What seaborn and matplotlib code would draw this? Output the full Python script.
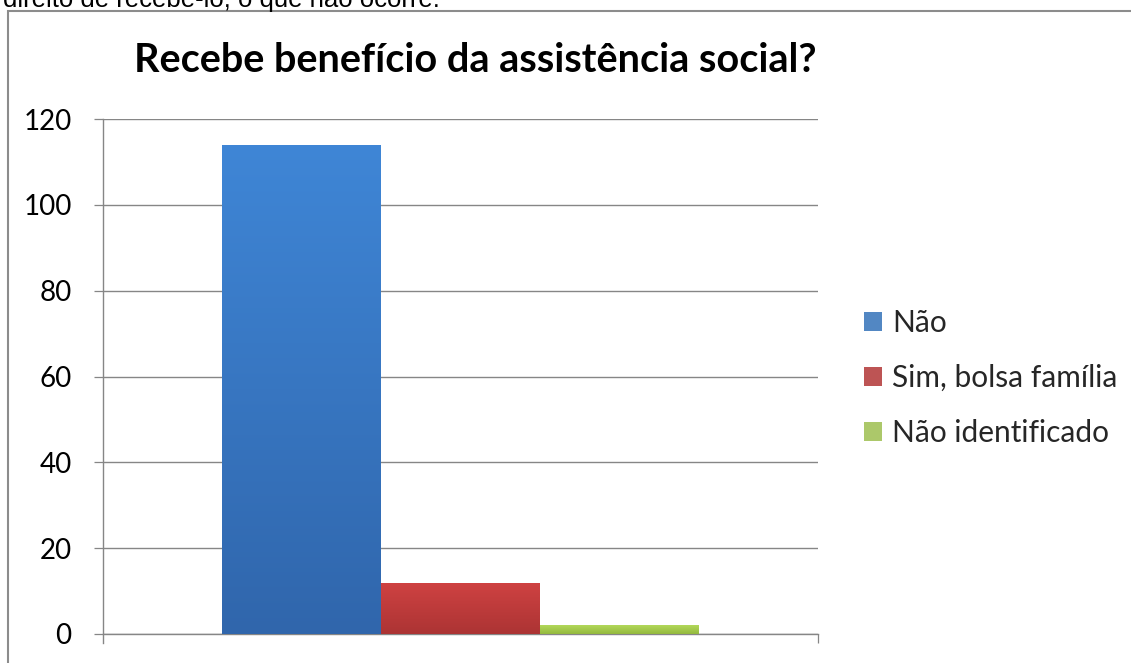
import numpy as np
import pandas as pd
import matplotlib
matplotlib.use("Agg")
import matplotlib.pyplot as plt
import seaborn as sns
from matplotlib.patches import Rectangle
from matplotlib.colors import LinearSegmentedColormap

categories = ["Não", "Sim, bolsa família", "Não identificado"]
values = [114, 12, 2]
yticks = [0, 20, 40, 60, 80, 100, 120]
title = "Recebe benefício da assistência social?"
top_text = "direito de recebê-lo, o que não ocorre."

colors_top = ["#3F86D6", "#CF4242", "#B2D85A"]
colors_bot = ["#3066AC", "#AC3434", "#94B93E"]

sns.set_theme(style="white")
plt.rcParams['font.family'] = ['Lato', 'DejaVu Sans']

W, H = 1131, 663
fig = plt.figure(figsize=(W/100, H/100), dpi=100)
ax = fig.add_axes([103/W, 1-634/H, (818-103)/W, (634-119)/H])

df = pd.DataFrame({"x": [""]*3, "valor": values, "cat": categories})
sns.barplot(data=df, x="x", y="valor", hue="cat", hue_order=categories,
            palette=dict(zip(categories, colors_top)), width=0.667, gap=0,
            ax=ax, edgecolor="none", linewidth=0, zorder=3)

# gradient fills on bars
for patch, ct, cb in zip(ax.patches[:3], colors_top, colors_bot):
    x0, y0 = patch.get_x(), patch.get_y()
    w, h = patch.get_width(), patch.get_height()
    cmap = LinearSegmentedColormap.from_list("g", [cb, ct])
    grad = np.linspace(0, 1, 256).reshape(-1, 1)
    im = ax.imshow(grad, cmap=cmap, origin="lower", aspect="auto",
                   extent=[x0, x0 + w, y0, y0 + h], zorder=3.5)
    im.set_clip_path(patch)
ax.set_xlim(-0.5, 0.5)
ax.set_ylim(0, 120)

ax.set_yticks(yticks)
ax.set_yticklabels([str(t) for t in yticks], fontsize=20, color="#000000")
ax.yaxis.grid(True, color="#868686", linewidth=1.0, zorder=0)
ax.set_xticks([0.5])
ax.set_xticklabels([""])
ax.tick_params(axis="y", length=6.5, width=0.9, color="#868686", pad=16, left=True)
ax.tick_params(axis="x", length=6.5, width=0.9, color="#868686", bottom=True)
ax.set_xlabel("")
ax.set_ylabel("")
for s in ["top", "right"]:
    ax.spines[s].set_visible(False)
for s in ["left", "bottom"]:
    ax.spines[s].set_color("#868686")
    ax.spines[s].set_linewidth(1.0)
ax.spines["left"].set_bounds(-2.1, 120)

fig.text(475/W, 1-60/H, title, fontsize=28.5, fontweight="bold",
         ha="center", va="center", color="#000000")

handles, labels = ax.get_legend_handles_labels()
leg = ax.legend(handles, labels, loc="center left", bbox_to_anchor=(855/W, 1-378/H),
                bbox_transform=fig.transFigure, frameon=False, fontsize=21.5,
                handlelength=0.6, handleheight=0.6, handletextpad=0.35,
                labelspacing=0.9, borderaxespad=0, borderpad=0.3)

# outer frame
fig.patches.append(Rectangle((8/W, -0.01), 1.0, 1-11/H+0.01, transform=fig.transFigure,
                             fill=False, edgecolor="#8C8C8C", linewidth=1.5))
fig.text(3/W, 1-7/H, top_text, fontsize=18.5, family=["Liberation Sans", "DejaVu Sans"],
         va="baseline", ha="left", color="#000000")

fig.savefig("out.png", dpi=100)
